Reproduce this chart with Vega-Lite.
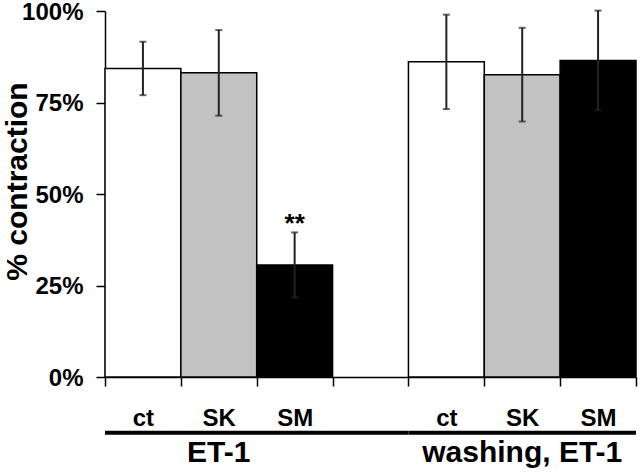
{
  "$schema": "https://vega.github.io/schema/vega-lite/v6.json",
  "autosize": "none",
  "width": 531,
  "height": 366,
  "padding": {"left": 105, "top": 11, "right": 4, "bottom": 96},
  "background": "white",
  "config": {
    "view": {"stroke": null},
    "font": "Liberation Sans",
    "axis": {"domainColor": "black", "tickColor": "black", "domainWidth": 1.5, "tickWidth": 1.5, "grid": false, "labelColor": "black", "titleColor": "black", "labelFont": "Liberation Sans", "titleFont": "Liberation Sans", "labelFontSize": 24, "labelFontWeight": "bold", "tickSize": 9},
    "axisY": {"labelPadding": 13, "labelFontSize": 24, "labelFontWeight": "bold", "labelOffset": 1},
    "axisX": {"labelPadding": 20, "labelFontSize": 24, "labelFontWeight": "bold", "labelBaseline": "top"}
  },
  "datasets": {
    "bars": [
      {"slot": "ET-1|ct", "group": "ET-1", "cond": "ct", "value": 84.3, "lo": 77.0, "hi": 91.6, "sig": ""},
      {"slot": "ET-1|SK", "group": "ET-1", "cond": "SK", "value": 83.1, "lo": 71.4, "hi": 94.8, "sig": ""},
      {"slot": "ET-1|SM", "group": "ET-1", "cond": "SM", "value": 30.6, "lo": 21.7, "hi": 39.5, "sig": "**"},
      {"slot": "washing, ET-1|ct", "group": "washing, ET-1", "cond": "ct", "value": 86.1, "lo": 73.2, "hi": 99.0, "sig": ""},
      {"slot": "washing, ET-1|SK", "group": "washing, ET-1", "cond": "SK", "value": 82.6, "lo": 69.8, "hi": 95.4, "sig": ""},
      {"slot": "washing, ET-1|SM", "group": "washing, ET-1", "cond": "SM", "value": 86.5, "lo": 72.9, "hi": 100.1, "sig": ""}
    ],
    "groups": [
      {"group": "ET-1", "from": "ET-1|ct", "to": "gap|", "mid": "ET-1|SK"},
      {"group": "washing, ET-1", "from": "washing, ET-1|ct", "to": "washing, ET-1|SM", "mid": "washing, ET-1|SK"}
    ]
  },
  "layer": [
    {
      "data": {"name": "bars"},
      "mark": {"type": "bar", "stroke": "black", "strokeWidth": 1.5},
      "encoding": {
        "x": {
          "field": "slot", "type": "nominal", "sort": null,
          "scale": {"domain": ["ET-1|ct", "ET-1|SK", "ET-1|SM", "gap|", "washing, ET-1|ct", "washing, ET-1|SK", "washing, ET-1|SM"], "paddingInner": 0, "paddingOuter": 0},
          "axis": {"title": null, "tickBand": "extent", "labelAngle": 0, "labelExpr": "split(datum.label, '|')[1]"}
        },
        "y": {
          "field": "value", "type": "quantitative", "title": "% contraction",
          "scale": {"domain": [0, 100], "nice": false},
          "axis": {"title": "% contraction", "values": [0, 25, 50, 75, 100], "labelExpr": "datum.value + '%'", "titleFontSize": 30, "titleFontWeight": "bold", "titleX": -88, "titleY": 170, "titleAngle": -90, "titleAlign": "center", "titleBaseline": "middle"}
        },
        "fill": {"field": "cond", "type": "nominal", "scale": {"domain": ["ct", "SK", "SM"], "range": ["#ffffff", "#c2c2c2", "#000000"]}, "legend": null}
      }
    },
    {
      "data": {"name": "bars"},
      "mark": {"type": "errorbar", "ticks": true, "size": 7, "thickness": 2, "color": "#222222"},
      "encoding": {
        "x": {"field": "slot", "type": "nominal"},
        "y": {"field": "lo", "type": "quantitative", "title": "% contraction"},
        "y2": {"field": "hi"}
      }
    },
    {
      "data": {"name": "bars"},
      "mark": {"type": "text", "fontSize": 26, "fontWeight": "bold", "baseline": "alphabetic", "color": "black"},
      "encoding": {
        "x": {"field": "slot", "type": "nominal"},
        "y": {"field": "hi", "type": "quantitative", "title": "% contraction"},
        "text": {"field": "sig"}
      }
    },
    {
      "data": {"name": "groups"},
      "mark": {"type": "rule", "strokeWidth": 4, "color": "black", "clip": false},
      "encoding": {
        "x": {"field": "from", "type": "nominal", "bandPosition": 0},
        "x2": {"field": "to", "bandPosition": 1},
        "y": {"datum": -15.2}
      }
    },
    {
      "data": {"name": "groups"},
      "mark": {"type": "text", "fontSize": 30, "fontWeight": "bold", "baseline": "middle", "align": "center", "color": "black", "clip": false},
      "encoding": {
        "x": {"field": "mid", "type": "nominal"},
        "y": {"datum": -20.9},
        "text": {"field": "group"}
      }
    }
  ]
}
